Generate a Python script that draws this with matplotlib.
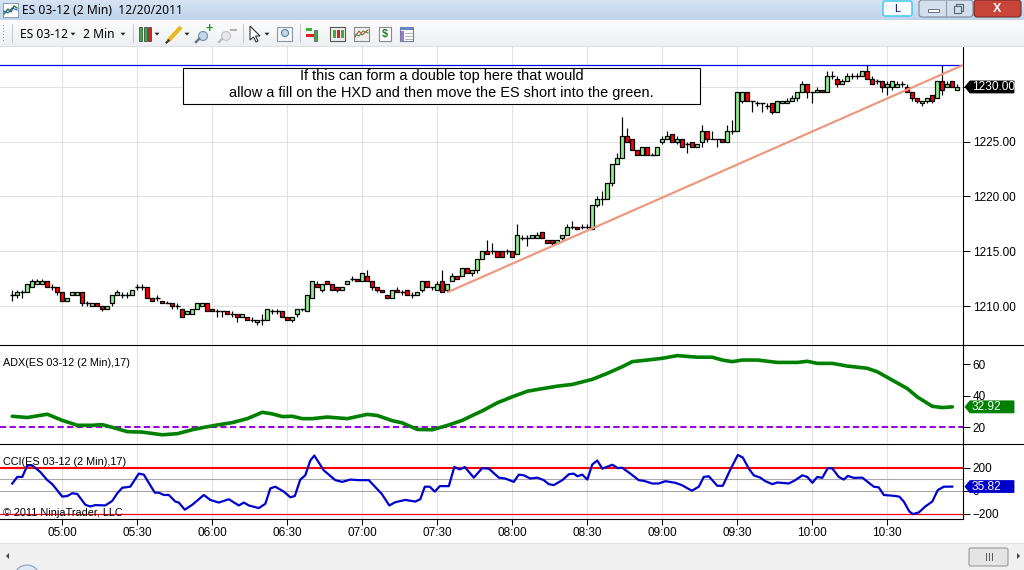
import matplotlib
matplotlib.use('Agg')
import matplotlib.pyplot as plt
from matplotlib.patches import Rectangle, FancyBboxPatch, Polygon, Circle
import numpy as np
import pandas as pd

plt.rcParams['font.family'] = ['Liberation Sans', 'DejaVu Sans']

# ES 03-12, 2 minute bars, 04:40 .. 10:58
opens = [1211.0, 1211.0, 1211.25, 1211.25, 1211.75, 1212.0, 1212.0, 1212.25, 1211.75, 1211.75,
         1211.25, 1210.5, 1211.0, 1211.0, 1211.25, 1210.25, 1210.0, 1210.25, 1210.0, 1209.75,
         1210.25, 1211.0, 1211.0, 1211.0, 1211.0, 1211.75, 1211.75, 1211.75, 1210.75, 1210.75,
         1210.5, 1210.25, 1210.25, 1210.0, 1209.75, 1209.25, 1209.25, 1209.75, 1210.0, 1210.25,
         1209.75, 1209.5, 1209.5, 1209.5, 1209.25, 1209.25, 1209.0, 1209.0, 1208.75, 1208.5,
         1208.75, 1208.75, 1209.5, 1209.5, 1209.5, 1209.0, 1208.75, 1209.25, 1209.75, 1209.5,
         1210.75, 1212.0, 1211.5, 1212.25, 1212.0, 1211.75, 1211.5, 1212.0, 1212.5, 1212.5,
         1212.25, 1212.75, 1212.25, 1211.75, 1211.5, 1211.0, 1210.75, 1211.5, 1211.25, 1211.5,
         1211.0, 1211.0, 1211.5, 1212.25, 1211.75, 1211.5, 1212.25, 1211.5, 1212.25, 1212.75,
         1212.75, 1213.5, 1213.0, 1213.25, 1214.25, 1215.0, 1215.0, 1215.0, 1215.0, 1215.0,
         1215.0, 1214.75, 1216.25, 1216.25, 1216.25, 1216.25, 1216.75, 1216.0, 1216.0, 1215.75,
         1216.25, 1216.5, 1217.25, 1217.25, 1217.25, 1217.25, 1217.0, 1219.25, 1219.75, 1219.75,
         1221.25, 1223.0, 1223.5, 1225.5, 1225.25, 1224.25, 1223.75, 1224.5, 1223.75, 1223.75,
         1225.0, 1225.25, 1225.75, 1225.0, 1225.25, 1224.75, 1225.0, 1224.5, 1225.0, 1226.0,
         1225.25, 1225.25, 1225.25, 1225.0, 1226.0, 1226.0, 1228.75, 1229.5, 1228.75, 1228.5,
         1228.5, 1228.25, 1228.5, 1227.75, 1228.5, 1228.5, 1228.75, 1229.0, 1229.5, 1230.25,
         1229.5, 1229.5, 1229.75, 1229.5, 1231.0, 1230.75, 1230.25, 1230.5, 1231.0, 1231.0,
         1231.0, 1231.5, 1230.75, 1230.5, 1230.5, 1230.0, 1230.0, 1230.0, 1230.25, 1230.0,
         1229.5, 1229.0, 1228.5, 1228.75, 1229.25, 1229.0, 1230.5, 1230.0, 1230.5, 1229.75]
highs = [1211.5, 1211.5, 1211.5, 1212.0, 1212.5, 1212.5, 1212.5, 1212.25, 1212.0, 1211.75,
         1211.25, 1210.75, 1211.25, 1211.25, 1211.25, 1210.5, 1210.25, 1210.25, 1210.0, 1210.0,
         1211.0, 1211.5, 1211.25, 1211.25, 1211.5, 1212.0, 1212.0, 1211.75, 1210.75, 1211.0,
         1210.5, 1210.5, 1210.25, 1210.25, 1209.75, 1209.5, 1209.75, 1210.25, 1210.25, 1210.25,
         1209.75, 1209.75, 1209.5, 1209.5, 1209.5, 1209.25, 1209.25, 1209.0, 1209.0, 1208.75,
         1209.25, 1209.75, 1209.75, 1209.75, 1209.5, 1209.0, 1209.0, 1209.75, 1209.75, 1211.0,
         1212.25, 1212.25, 1212.0, 1212.25, 1212.0, 1211.75, 1211.75, 1212.25, 1212.75, 1212.5,
         1213.0, 1213.25, 1212.25, 1211.75, 1211.5, 1211.0, 1211.5, 1211.75, 1211.5, 1211.5,
         1211.25, 1211.25, 1212.25, 1212.25, 1211.75, 1212.25, 1213.25, 1212.0, 1213.0, 1212.75,
         1213.5, 1213.5, 1213.25, 1214.25, 1215.0, 1216.0, 1215.75, 1215.0, 1215.0, 1215.25,
         1215.0, 1217.5, 1216.5, 1216.5, 1216.5, 1216.75, 1216.75, 1216.0, 1216.0, 1216.0,
         1216.5, 1217.5, 1217.75, 1217.25, 1217.5, 1217.5, 1219.25, 1220.0, 1220.5, 1221.25,
         1223.0, 1224.0, 1227.25, 1226.25, 1225.25, 1224.25, 1224.5, 1224.5, 1224.0, 1224.5,
         1225.5, 1226.0, 1225.75, 1225.5, 1225.25, 1225.0, 1225.0, 1224.75, 1226.5, 1226.0,
         1226.0, 1225.25, 1225.25, 1226.5, 1227.0, 1229.5, 1229.5, 1229.5, 1228.75, 1228.75,
         1228.5, 1228.5, 1228.5, 1228.75, 1228.75, 1229.0, 1229.25, 1229.5, 1230.5, 1230.25,
         1229.5, 1230.0, 1229.75, 1231.5, 1231.5, 1231.0, 1230.75, 1231.25, 1231.25, 1231.25,
         1231.5, 1232.0, 1231.0, 1230.75, 1230.5, 1230.5, 1230.5, 1230.5, 1230.5, 1230.25,
         1229.5, 1229.0, 1228.75, 1229.0, 1229.25, 1230.5, 1232.0, 1230.5, 1230.5, 1230.25]
lows = [1210.5, 1210.75, 1210.75, 1211.25, 1211.75, 1212.0, 1212.0, 1211.75, 1211.5, 1211.0,
        1210.5, 1210.5, 1211.0, 1211.0, 1210.0, 1210.0, 1210.0, 1210.0, 1209.5, 1209.75,
        1210.0, 1211.0, 1210.75, 1210.75, 1211.0, 1211.5, 1211.5, 1210.75, 1210.5, 1210.5,
        1210.25, 1210.25, 1209.75, 1209.75, 1209.0, 1209.25, 1209.25, 1209.75, 1210.0, 1209.5,
        1209.5, 1209.0, 1209.0, 1209.25, 1209.0, 1208.5, 1209.0, 1208.75, 1208.5, 1208.25,
        1208.25, 1208.75, 1209.25, 1209.25, 1209.0, 1208.75, 1208.5, 1209.0, 1209.5, 1209.5,
        1210.75, 1211.75, 1211.25, 1212.0, 1211.5, 1211.25, 1211.5, 1212.0, 1212.25, 1212.25,
        1212.25, 1212.25, 1211.5, 1211.25, 1211.25, 1210.75, 1210.75, 1211.25, 1211.0, 1211.0,
        1210.75, 1211.0, 1211.25, 1211.75, 1211.5, 1211.5, 1211.25, 1211.25, 1212.25, 1212.5,
        1212.75, 1213.0, 1212.75, 1213.0, 1214.25, 1214.75, 1214.75, 1214.5, 1214.5, 1214.75,
        1214.5, 1214.75, 1216.0, 1215.5, 1216.25, 1216.25, 1216.25, 1215.75, 1215.5, 1215.75,
        1216.0, 1216.5, 1217.0, 1217.0, 1217.0, 1217.0, 1217.0, 1219.0, 1219.25, 1219.75,
        1221.0, 1223.0, 1223.5, 1225.0, 1224.25, 1223.75, 1223.75, 1223.75, 1223.75, 1223.75,
        1224.75, 1225.25, 1225.0, 1224.75, 1224.5, 1224.0, 1224.5, 1224.5, 1224.5, 1225.0,
        1225.25, 1224.5, 1225.0, 1225.0, 1225.75, 1226.0, 1228.5, 1228.75, 1227.75, 1228.25,
        1227.75, 1228.0, 1227.5, 1227.75, 1228.5, 1228.5, 1228.75, 1228.75, 1229.5, 1229.0,
        1228.5, 1229.5, 1229.5, 1229.5, 1230.75, 1230.0, 1230.25, 1230.5, 1230.75, 1230.75,
        1231.0, 1230.75, 1230.25, 1230.25, 1229.5, 1229.25, 1229.75, 1230.0, 1230.0, 1229.5,
        1228.75, 1228.5, 1228.25, 1228.5, 1228.5, 1229.0, 1229.25, 1230.0, 1230.0, 1229.75]
closes = [1211.0, 1211.25, 1211.25, 1212.0, 1212.25, 1212.25, 1212.25, 1211.75, 1211.75, 1211.25,
          1210.5, 1210.75, 1211.25, 1211.25, 1210.25, 1210.25, 1210.25, 1210.0, 1209.75, 1210.0,
          1211.0, 1211.25, 1211.0, 1211.0, 1211.5, 1211.75, 1211.75, 1210.75, 1210.5, 1210.75,
          1210.25, 1210.25, 1210.0, 1210.0, 1209.0, 1209.5, 1209.75, 1210.25, 1210.25, 1209.5,
          1209.5, 1209.5, 1209.5, 1209.25, 1209.25, 1209.0, 1209.25, 1208.75, 1208.75, 1208.75,
          1208.75, 1209.75, 1209.5, 1209.5, 1209.0, 1208.75, 1209.0, 1209.75, 1209.75, 1211.0,
          1212.25, 1211.75, 1212.0, 1212.0, 1211.5, 1211.5, 1211.75, 1212.25, 1212.5, 1212.25,
          1213.0, 1212.25, 1211.75, 1211.5, 1211.25, 1210.75, 1211.5, 1211.25, 1211.25, 1211.0,
          1211.0, 1211.25, 1212.25, 1211.75, 1211.75, 1212.0, 1211.25, 1212.0, 1212.75, 1212.5,
          1213.5, 1213.0, 1213.25, 1214.25, 1215.0, 1214.75, 1215.0, 1214.5, 1214.5, 1215.0,
          1214.5, 1216.5, 1216.25, 1216.25, 1216.5, 1216.5, 1216.25, 1215.75, 1215.75, 1216.0,
          1216.5, 1217.25, 1217.25, 1217.0, 1217.25, 1217.25, 1219.25, 1219.75, 1219.75, 1221.25,
          1223.0, 1223.5, 1225.5, 1225.0, 1224.25, 1223.75, 1224.5, 1223.75, 1223.75, 1224.5,
          1225.25, 1225.5, 1225.0, 1225.25, 1224.5, 1224.75, 1224.5, 1224.75, 1226.0, 1225.25,
          1225.25, 1225.25, 1225.0, 1226.0, 1226.0, 1229.5, 1229.5, 1228.75, 1228.75, 1228.5,
          1228.5, 1228.25, 1227.75, 1228.75, 1228.75, 1228.75, 1229.0, 1229.5, 1230.25, 1229.5,
          1229.5, 1229.75, 1229.5, 1231.0, 1231.0, 1230.25, 1230.5, 1231.0, 1231.0, 1231.0,
          1231.5, 1230.75, 1230.25, 1230.5, 1230.0, 1230.25, 1230.5, 1230.25, 1230.25, 1229.5,
          1229.0, 1228.75, 1228.75, 1229.0, 1228.75, 1230.5, 1229.75, 1230.25, 1230.0, 1230.0]

# ADX(17) (bar number, value)
adx_bars = [1, 4, 8, 11, 14, 17, 19, 21, 24, 27, 31, 34, 37, 39, 42, 45, 48, 51, 53, 55,
            57, 59, 61, 64, 68, 72, 74, 77, 79, 82, 85, 88, 91, 93, 95, 98, 101, 104, 106, 110,
            113, 117, 120, 123, 125, 128, 131, 134, 138, 141, 143, 145, 147, 150, 154, 158, 160, 162, 165, 168,
            172, 174, 177, 180, 182, 185, 187, 189]
adx_vals = [27.0, 26.2, 28.3, 24.4, 21.3, 21.3, 21.7, 20.0, 17.3, 17.0, 15.3, 16.0, 18.5, 19.8, 21.5, 23.0, 25.5, 29.5, 28.5, 26.8,
            27.0, 25.5, 25.5, 26.5, 25.5, 28.2, 27.5, 24.2, 22.8, 18.7, 18.5, 21.2, 24.4, 27.5, 30.4, 35.5, 39.3, 42.8, 43.9, 46.0,
            47.1, 50.3, 54.1, 58.3, 61.5, 62.5, 63.6, 65.3, 64.3, 64.3, 62.5, 61.5, 62.5, 62.5, 61.0, 61.0, 61.7, 60.4, 60.4, 58.7,
            57.3, 55.1, 49.8, 44.5, 39.2, 33.3, 32.5, 32.92]

# CCI(17)
cci_bars = [1, 2, 3, 4, 5, 6.6, 8, 9, 11, 12, 13, 14, 15.6, 16.6, 17.6, 19.6, 21, 22, 23, 24.6,
            26.3, 27.3, 29.5, 30.3, 31.3, 32.3, 33.6, 34.3, 35.5, 37, 38.3, 39.3, 40.6, 42.3, 44.3, 46.3, 47.3, 48.3, 50.3, 51.6,
            52.6, 53.6, 55.3, 56.6, 57.5, 58.6, 59.6, 60.6, 61.4, 63.3, 65.6, 67, 68.6, 70.3, 72.3, 74.9, 76.4, 77.6, 79.6, 81.6,
            82.6, 83.5, 84.5, 85.5, 86.5, 88.3, 89.4, 90.5, 91.5, 93.3, 95, 96.3, 98.3, 99.6, 101.3, 102.3, 103.3, 104.6, 106, 107.3,
            108.3, 109.3, 111, 112.3, 113.3, 114, 115, 116, 117, 118, 119, 121, 122.1, 123, 124.6, 126.3, 127.3, 129, 130.3, 131.6,
            133.6, 134.9, 136.9, 138.3, 139.3, 140.3, 142, 143.1, 144.6, 146.1, 147.1, 148.3, 149.3, 150.6, 151.6, 153, 154, 156.3, 157.6, 159,
            160, 161, 162, 163, 164.1, 165, 166.3, 167.3, 168.1, 169.3, 171, 173.3, 174.3, 175.3, 177, 178.4, 179.3, 180.4, 181.1, 182.3,
            183.6, 185, 186.1, 187.3, 189]
cci_vals = [63, 120, 120, 220, 220, 163, 92, 57, -51, -46, -22, -28, -122, -137, -125, -128, -88, -22, 26, 35,
            149, 140, -17, -17, -37, -37, -94, -103, -165, -122, -74, -37, -80, -103, -74, -128, -103, -128, -151, -114,
            20, 35, -8, -57, -46, 97, 135, 263, 306, 177, 92, 77, 97, 92, 92, -28, -128, -100, -80, -94,
            -74, 35, 35, -8, 40, 40, 206, 186, 206, 114, 197, 192, 114, 106, 77, 140, 134, 106, 114, 92,
            57, 49, 92, 143, 149, 126, 140, 97, 229, 263, 192, 226, 197, 200, 149, 92, 86, 63, 63, 83,
            69, 49, 0, 35, 120, 126, 43, 43, 183, 311, 289, 192, 134, 114, 83, 57, 72, 63, 92, 134,
            120, 69, 120, 112, 197, 194, 120, 97, 129, 112, 114, 35, 29, -37, -43, -51, -94, -180, -203, -189,
            -137, -94, 6, 35, 35.82]

hline_price = 1232.0
trend_pts = [(88, 1211.25), (191.14, 1232.0)]
note_lines = ["If this can form a double top here that would",
              "allow a fill on the HXD and then move the ES short into the green."]
price_ticks = [1210, 1215, 1220, 1225, 1230]
adx_ticks = [20, 40, 60]
cci_ticks = [-200, 0, 200]

W, H = 1024, 570
fig = plt.figure(figsize=(W / 100, H / 100), dpi=100)
fig.patch.set_facecolor('white')


def frac(x0, y0, x1, y1):
    return [x0 / W, 1 - y1 / H, (x1 - x0) / W, (y1 - y0) / H]


ax_p = fig.add_axes(frac(0, 47, 963, 345))
ax_a = fig.add_axes(frac(0, 345, 963, 444.3), sharex=ax_p)
ax_c = fig.add_axes(frac(0, 444.3, 963, 519), sharex=ax_p)

bars = np.arange(1, len(closes) + 1)
times = pd.date_range('2011-12-20 04:40', periods=len(bars), freq='2min')
tick_bars = bars[times.minute % 30 == 0]
tick_labels = [t.strftime('%H:%M') for t in times[times.minute % 30 == 0]]

for ax in (ax_p, ax_a, ax_c):
    for s in ('top', 'left', 'bottom'):
        ax.spines[s].set_visible(False)
    ax.spines['right'].set_linewidth(0.8)
    ax.yaxis.tick_right()
    ax.tick_params(axis='y', direction='out', length=5, width=0.7, labelsize=8.5, pad=2, colors='black')
    ax.grid(axis='x', color='#e2e2e2', lw=0.8)
    ax.set_axisbelow(True)
    ax.set_xticks(tick_bars)

ax_p.set_xlim(-1.46, 191.14)
ax_p.tick_params(axis='x', length=0, labelbottom=False)
ax_a.tick_params(axis='x', length=0, labelbottom=False)
ax_c.spines['bottom'].set_visible(True)
ax_c.spines['bottom'].set_linewidth(0.8)
ax_c.set_xticklabels(tick_labels)
ax_c.tick_params(axis='x', length=4, width=0.7, labelsize=8.5, pad=2)

# price panel
ax_p.set_ylim(1206.44, 1233.65)
ax_p.set_yticks(price_ticks)
ax_p.set_yticklabels(['%.2f' % p if p != 1230 else '' for p in price_ticks])
ax_p.grid(axis='y', color='#e2e2e2', lw=0.8)

o = np.array(opens); c = np.array(closes); hi = np.array(highs); lo = np.array(lows)
ax_p.vlines(bars, lo, hi, color='black', lw=0.85, zorder=2)
up = c > o
dn = c < o
flat = c == o
ax_p.bar(bars[up], (c - o)[up], bottom=o[up], width=0.8, color='#90ee90', edgecolor='black', lw=0.9, zorder=3)
ax_p.bar(bars[dn], (o - c)[dn], bottom=c[dn], width=0.8, color='#ff0000', edgecolor='black', lw=0.9, zorder=3)
ax_p.hlines(c[flat], bars[flat] - 0.45, bars[flat] + 0.45, color='black', lw=1.0, zorder=3)

ax_p.axhline(hline_price, color='#0000ff', lw=0.9, zorder=5)
ax_p.plot([trend_pts[0][0], trend_pts[1][0]], [trend_pts[0][1], trend_pts[1][1]],
          color='#eb9a80', lw=1.6, zorder=5, solid_capstyle='butt')

# ADX panel
ax_a.set_ylim(9.3, 72.0)
ax_a.set_yticks(adx_ticks)
ax_a.axhline(20, color='#9b00e0', lw=1.5, ls=(0, (3, 1.6)), zorder=2)
ax_a.plot(adx_bars, adx_vals, color='#008000', lw=2.6, zorder=3, solid_capstyle='round')
ax_a.text(0.003, 0.82, 'ADX(ES 03-12 (2 Min),17)', transform=ax_a.transAxes, fontsize=7.8, va='center')

# CCI panel
ax_c.set_ylim(-246, 404)
ax_c.set_yticks(cci_ticks)
ax_c.axhline(200, color='#ff0000', lw=1.5, zorder=2)
ax_c.axhline(-200, color='#ff0000', lw=0.9, zorder=2)
ax_c.axhline(100, color='#a8a8a8', lw=0.8, zorder=1)
ax_c.axhline(0, color='#a8a8a8', lw=0.8, zorder=1)
ax_c.plot(cci_bars, cci_vals, color='#0000cd', lw=1.6, zorder=3)
ax_c.text(0.003, 0.76, 'CCI(ES 03-12 (2 Min),17)', transform=ax_c.transAxes, fontsize=7.8, va='center')
ax_c.text(0.003, 0.08, '\u00a9 2011 NinjaTrader, LLC', transform=ax_c.transAxes, fontsize=7.8, va='center', zorder=4)

# overlay in pixel units: separators, note box, value tags, window chrome
ov = fig.add_axes([0, 0, 1, 1], zorder=10)
ov.axis('off')

ov.plot([0, W], [345, 345], color='black', lw=0.8)
ov.plot([0, W], [444.3, 444.3], color='black', lw=0.8)

ov.add_patch(Rectangle((183, 67.5), 517, 36, fc='white', ec='black', lw=0.8))
ov.text(441.5, 76, note_lines[0], ha='center', va='center', fontsize=10.45)
ov.text(441.5, 93.5, note_lines[1], ha='center', va='center', fontsize=10.45)


def tag(ax, y, s, color):
    yp = H - ax.transData.transform((0, y))[1]
    ov.add_patch(Polygon([[965, yp], [970, yp - 6], [1014, yp - 6], [1014, yp + 6], [970, yp + 6]],
                         closed=True, fc=color, ec=color, lw=0.6, zorder=20))
    ov.text(972, yp + 0.5, s, color='white', fontsize=8.6, va='center', ha='left', zorder=21)


tag(ax_p, closes[-1], '%.2f' % closes[-1], 'black')
tag(ax_a, adx_vals[-1], '%.2f' % adx_vals[-1], '#008000')
tag(ax_c, cci_vals[-1], '%.2f' % cci_vals[-1], '#0000cd')

# title bar
grad = np.linspace(0, 1, 20)[:, None]
top = np.array([0.84, 0.89, 0.96]); bot = np.array([0.75, 0.83, 0.92])
img = top + (bot - top) * grad[..., None]
ov.imshow(np.repeat(img, 2, axis=1), extent=(0, W, 20, 0), aspect='auto', zorder=0)
ov.add_patch(Rectangle((3, 3), 15, 14, fc='white', ec='#7a8fa8', lw=0.6))
ov.plot([4, 8, 11, 14, 17], [14, 9, 12, 6, 8], color='#2a7a2a', lw=1)
ov.plot([4, 8, 12, 17], [11, 13, 8, 10], color='#2050c0', lw=0.8)
ov.text(22, 10, 'ES 03-12 (2 Min)  12/20/2011', fontsize=8.7, va='center', family=['Noto Sans', 'DejaVu Sans'])
ov.add_patch(FancyBboxPatch((883, 1), 29, 15, boxstyle='round,pad=0,rounding_size=2', fc='#f8fbff', ec='#39c6ec', lw=1))
ov.text(897.5, 8.5, 'L', ha='center', va='center', fontsize=8, color='#101060')
ov.add_patch(FancyBboxPatch((919, 0), 54, 17, boxstyle='round,pad=0,rounding_size=3', fc='#d3dfec', ec='#7b8a9c', lw=0.8))
ov.plot([946, 946], [1, 16], color='#8d9aab', lw=0.8)
ov.add_patch(Rectangle((928, 9), 11, 3, fc='white', ec='#556070', lw=0.6))
ov.add_patch(Rectangle((956, 4), 7, 7, fc='none', ec='#556070', lw=0.8))
ov.add_patch(Rectangle((954, 6), 7, 7, fc='#d3dfec', ec='#556070', lw=0.8))
ov.add_patch(FancyBboxPatch((974, 0), 47, 17, boxstyle='round,pad=0,rounding_size=3', fc='#c8453a', ec='#7a2a24', lw=0.8))
ov.text(997.5, 8.5, 'X', ha='center', va='center', fontsize=9, color='white', fontweight='bold')

# toolbar
tb = np.array([0.99, 0.99, 0.99]) + (np.array([0.93, 0.94, 0.95]) - 0.99) * np.linspace(0, 1, 26)[:, None, None]
ov.imshow(np.repeat(tb, 2, axis=1), extent=(0, W, 46, 20), aspect='auto', zorder=0)
ov.plot([0, W], [46, 46], color='#dcdfe3', lw=0.8)
for yy in range(25, 42, 3):
    ov.add_patch(Rectangle((3, yy), 1.2, 1.2, fc='#a0a0a0', ec='none'))
for xs in (12, 133, 243, 300):
    ov.plot([xs, xs], [24, 42], color='#c8ccd2', lw=0.8)


def tri(x, y=34):
    ov.add_patch(Polygon([[x - 2.5, y - 1.3], [x + 2.5, y - 1.3], [x, y + 1.5]], closed=True, fc='#222222', ec='none'))


ov.text(20, 34, 'ES 03-12', fontsize=8.7, va='center', family=['Noto Sans', 'DejaVu Sans'])
tri(73)
ov.text(83, 34, '2 Min', fontsize=8.7, va='center', family=['Noto Sans', 'DejaVu Sans'])
tri(123)
for xb, col in ((139, '#3ab03a'), (143.5, '#3ab03a'), (148, '#e02020')):
    ov.add_patch(Rectangle((xb, 27), 3, 14, fc=col, ec='#333333', lw=0.5))
tri(157)
ov.plot([168, 181], [41, 27], color='#e8b820', lw=3, solid_capstyle='butt')
ov.plot([166.5, 168.5], [42.5, 40.5], color='#333333', lw=1.5)
tri(187)
ov.add_patch(Circle((203, 36), 4.5, fc='#c6d6ea', ec='#7890a8', lw=0.8))
ov.plot([199, 196], [39, 42], color='#667788', lw=1.8)
ov.text(209, 29, '+', fontsize=9, color='#20a020', ha='center', va='center', fontweight='bold')
ov.add_patch(Circle((226, 36), 4.5, fc='#e6e6e6', ec='#c4c4c4', lw=0.8))
ov.plot([222, 219], [39, 42], color='#c0c0c0', lw=1.8)
ov.plot([231, 236], [30, 30], color='#b0b0b0', lw=1.5)
ov.add_patch(Polygon([[250, 26], [250, 40], [253.5, 37], [256, 42], [258, 41], [255.5, 36], [260, 36]],
                     closed=True, fc='white', ec='#333333', lw=0.8))
tri(267)
ov.add_patch(Rectangle((277, 27), 15, 14, fc='#f4f6f8', ec='#8a96a4', lw=0.8))
ov.add_patch(Circle((285, 33), 3.5, fc='#c6d6ea', ec='#6080a0', lw=0.8))
ov.add_patch(Rectangle((306, 28), 6, 3, fc='#3ab03a', ec='none'))
ov.add_patch(Rectangle((306, 34), 8, 3, fc='#e02020', ec='none'))
ov.add_patch(Rectangle((314, 30), 3, 11, fc='#3ab03a', ec='#333333', lw=0.4))
ov.add_patch(Rectangle((330, 27), 15, 14, fc='#f0f0f0', ec='#555555', lw=0.8))
for xb, col in ((333, '#3ab03a'), (337, '#e02020'), (341, '#3ab03a')):
    ov.add_patch(Rectangle((xb, 30), 2.5, 8, fc=col, ec='none'))
ov.add_patch(Rectangle((354, 27), 15, 14, fc='#f0f0f0', ec='#888888', lw=0.8))
ov.plot([355, 359, 362, 368], [37, 31, 35, 30], color='#e04040', lw=0.8)
ov.plot([355, 359, 363, 368], [34, 36, 31, 33], color='#40a040', lw=0.8)
ov.add_patch(Rectangle((379, 27), 12, 14, fc='white', ec='#888888', lw=0.8))
ov.text(385, 34.5, '$', fontsize=8, ha='center', va='center', color='#208020', fontweight='bold')
ov.add_patch(Rectangle((400, 27), 13, 14, fc='white', ec='#7080a0', lw=0.8))
ov.add_patch(Rectangle((400, 27), 13, 3, fc='#6a86c0', ec='none'))
ov.add_patch(Rectangle((401, 31), 3, 10, fc='#b070d0', ec='none'))
for yy in (33, 36, 39):
    ov.plot([405, 412], [yy, yy], color='#9aa6b8', lw=0.6)

# bottom scroll area
ov.add_patch(Rectangle((0, 543), W, 27, fc='#f0f0f0', ec='none'))
ov.plot([0, W], [543, 543], color='#dedede', lw=0.8)
ov.add_patch(Polygon([[6, 556], [9, 553], [9, 559]], closed=True, fc='#404040', ec='none'))
ov.add_patch(FancyBboxPatch((969, 548), 39, 18, boxstyle='round,pad=0,rounding_size=2', fc='#e4e4e4', ec='#9a9a9a', lw=0.8))
for xx in (985.5, 988.5, 991.5):
    ov.plot([xx, xx], [553, 560], color='#555555', lw=0.7)
ov.add_patch(Polygon([[1020, 556], [1017, 553], [1017, 559]], closed=True, fc='#404040', ec='none'))
ov.add_patch(Circle((27, 578), 13, fc='#dfe8f0', ec='#8aa0b8', lw=0.8))

ov.set_xlim(0, W)
ov.set_ylim(H, 0)

fig.savefig('out.png', dpi=100)
